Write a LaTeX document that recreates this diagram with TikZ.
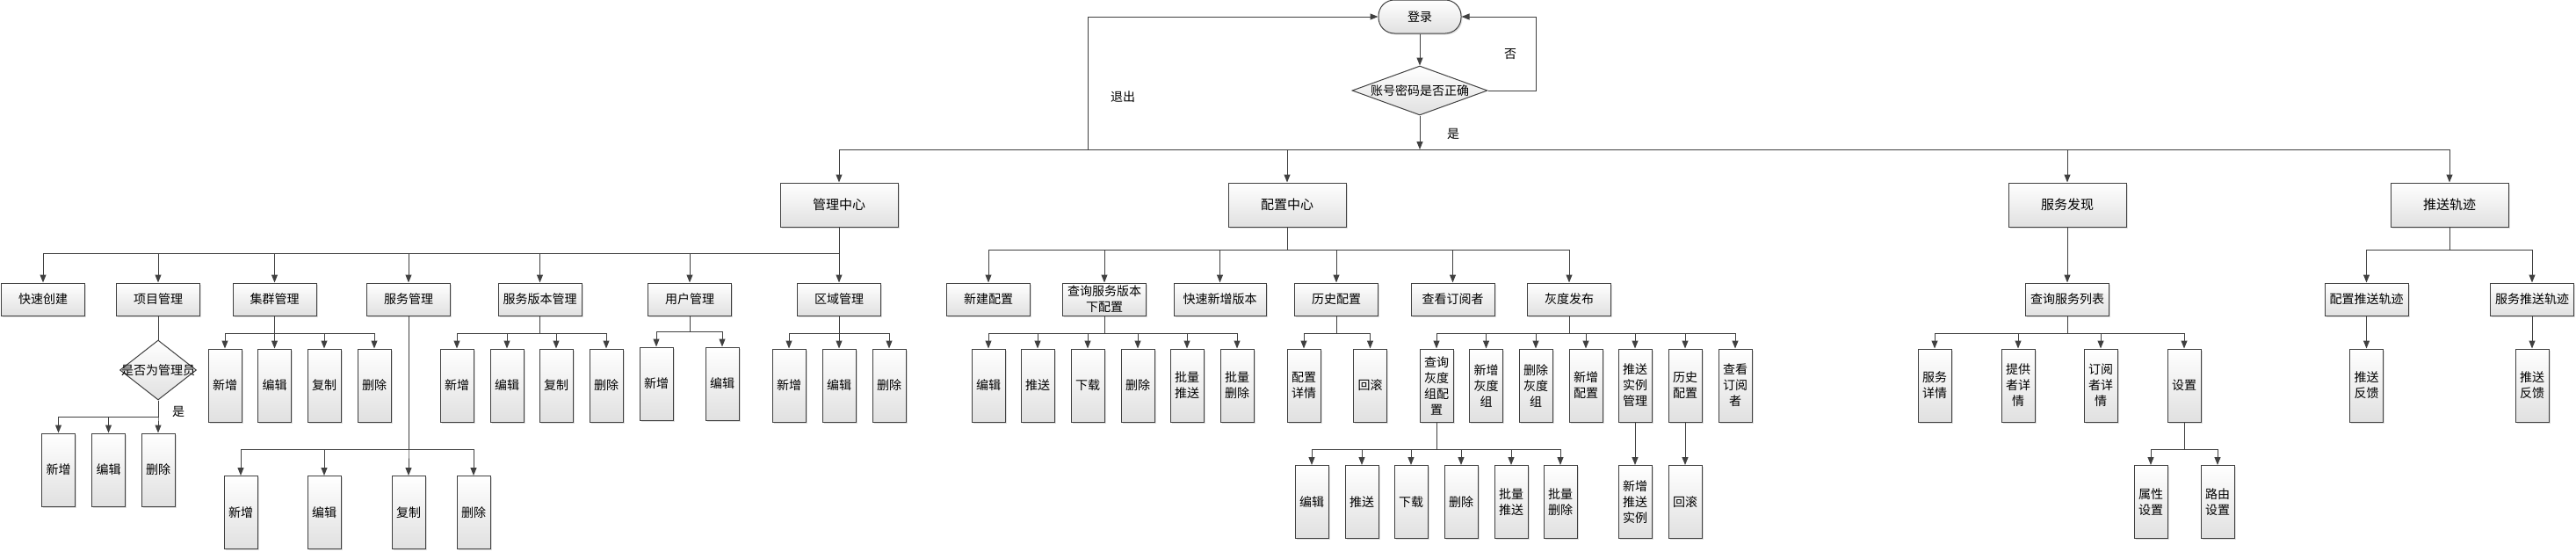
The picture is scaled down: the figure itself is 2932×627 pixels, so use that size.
\documentclass[tikz,border=0pt]{standalone}
\usepackage{fontspec}
\setmainfont{Noto Sans CJK SC}
\usetikzlibrary{positioning,shapes.geometric,arrows.meta,shadows}
\tikzset{box/.style={draw=black!75, line width=1pt, top color=white, bottom color=black!12,
   drop shadow={shadow xshift=1.5pt, shadow yshift=-1.5pt, fill=black!25, opacity=.5},
   font=\fontsize{14}{18}\selectfont, align=center, inner sep=1pt},
 terminal/.style={box, rounded corners=18pt, minimum width=94pt, minimum height=38pt},
 topbox/.style={box, minimum width=134pt, minimum height=50pt, font=\fontsize{15}{18}\selectfont},
 midbox/.style={box, minimum width=95pt, minimum height=37pt},
 leaf/.style={box, minimum width=38pt, minimum height=83pt},
 decide/.style={diamond, draw=black!75, line width=1pt, top color=white, bottom color=black!12, inner sep=0pt},
 tag/.style={font=\fontsize{14}{18}\selectfont},
 link/.style={draw=black!75, line width=1pt},
 arr/.style={link, -{Triangle[length=9pt,width=7pt]}},
 }

\begin{document}
\begin{tikzpicture}[x=1pt,y=-1pt]
        \useasboundingbox (0,0) rectangle (2932,627);

        % login
        \node[terminal] (login) at (1616,19) {登录};
        \node[decide, minimum width=154pt, minimum height=56pt, label={[tag]center:账号密码是否正确}] (check) at (1616,103) {};
        \draw[arr] (login) -- (check);
        \draw[arr] (check.east) -- ++(55,0) |- (login.east);
        \node[tag] (no) at (1719,62) {否};

        \coordinate (busL) at (955,170);
        \coordinate (busR) at (2788,170);
        \coordinate (quit) at (1238,170);
        \draw[link] (busL) -- (busR);
        \draw[arr] (check.south) -- (check.south |- busL);
        \node[tag] (yes) at (1654,152) {是};
        \draw[arr] (quit) |- (login.west);
        \node[tag] (exit) at (1278,110) {退出};

        % top row
        \node[topbox] (mgmt) at (955,233) {管理中心};
        \node[topbox] (conf) at (1465,233) {配置中心};
        \node[topbox] (disc) at (2353,233) {服务发现};
        \node[topbox] (trace) at (2788,233) {推送轨迹};
        \foreach \n in {mgmt,conf,disc,trace} {
            \draw[arr] (\n.north |- busL) -- (\n.north);
        }

        % management
        \foreach \t/\x/\n in {快速创建/49/kscj, 项目管理/180/xmgl, 集群管理/312.5/jqgl, 服务管理/465/fwgl,
                服务版本管理/614.5/bbgl, 用户管理/785/yhgl, 区域管理/955/qygl} {
            \node[midbox] (\n) at (\x,340.5) {\t};
            \draw[arr] (mgmt.south) -- ++(0,30) -| (\n.north);
        }
        \node[decide, minimum width=87pt, minimum height=68pt, label={[tag]center:是否为管理员}] (admin) at (180,421) {};
        \draw[link] (xmgl) -- (admin);
        \node[tag] (yes2) at (203,468) {是};
        \foreach \t/\x [count=\i] in {新增/66.5, 编辑/123.5, 删除/180} {
            \node[leaf] (xm\i) at (\x,534.5) {\t};
            \draw[arr] (admin.south) -- ++(0,19) -| (xm\i.north);
        }
        \foreach \t/\x [count=\i] in {新增/256, 编辑/312.5, 复制/369, 删除/426} {
            \node[leaf] (jq\i) at (\x,438.5) {\t};
            \draw[arr] (jqgl.south) -- ++(0,20) -| (jq\i.north);
        }
        \foreach \t/\x [count=\i] in {新增/274, 编辑/369, 复制/465, 删除/539} {
            \node[leaf] (fw\i) at (\x,583) {\t};
            \draw[arr] (fwgl.south) -- ++(0,152) -| (fw\i.north);
        }
        \foreach \t/\x [count=\i] in {新增/520, 编辑/577, 复制/633, 删除/690} {
            \node[leaf] (bb\i) at (\x,438.5) {\t};
            \draw[arr] (bbgl.south) -- ++(0,20) -| (bb\i.north);
        }
        \foreach \t/\x [count=\i] in {新增/747, 编辑/822} {
            \node[leaf] (yh\i) at (\x,436.5) {\t};
            \draw[arr] (yhgl.south) -- ++(0,18) -| (yh\i.north);
        }
        \foreach \t/\x [count=\i] in {新增/898, 编辑/955, 删除/1012} {
            \node[leaf] (qy\i) at (\x,438.5) {\t};
            \draw[arr] (qygl.south) -- ++(0,20) -| (qy\i.north);
        }

        % configuration
        \foreach \t/\x/\n/\w in {新建配置/1125/xjpz/95, {查询服务版本\\下配置}/1257/cxpz/95, 快速新增版本/1388.5/ksxz/105,
                历史配置/1521/lspz/95, 查看订阅者/1653.5/ckdy/95, 灰度发布/1786/hdfb/95} {
            \node[midbox, minimum width=\w pt] (\n) at (\x,340.5) {\t};
            \draw[arr] (conf.south) -- ++(0,26) -| (\n.north);
        }
        \foreach \t/\x [count=\i] in {编辑/1125, 推送/1181, 下载/1238, 删除/1295, {批量\\推送}/1351, {批量\\删除}/1408} {
            \node[leaf] (cx\i) at (\x,438.5) {\t};
            \draw[arr] (cxpz.south) -- ++(0,20) -| (cx\i.north);
        }
        \foreach \t/\x [count=\i] in {{配置\\详情}/1484, 回滚/1559.5} {
            \node[leaf] (ls\i) at (\x,438.5) {\t};
            \draw[arr] (lspz.south) -- ++(0,20) -| (ls\i.north);
        }
        \foreach \t/\x [count=\i] in {{查询\\灰度\\组配\\置}/1635, {新增\\灰度\\组}/1691.5, {删除\\灰度\\组}/1748, {新增\\配置}/1805,
                {推送\\实例\\管理}/1861, {历史\\配置}/1918, {查看\\订阅\\者}/1975} {
            \node[leaf] (hd\i) at (\x,438.5) {\t};
            \draw[arr] (hdfb.south) -- ++(0,20) -| (hd\i.north);
        }
        \foreach \t/\x [count=\i] in {编辑/1493, 推送/1550, 下载/1606, 删除/1663, {批量\\推送}/1720, {批量\\删除}/1776} {
            \node[leaf] (hz\i) at (\x,571) {\t};
            \draw[arr] (hd1.south) -- ++(0,31) -| (hz\i.north);
        }
        \node[leaf] (tssl) at (1861,571) {新增\\推送\\实例};
        \draw[arr] (hd5) -- (tssl);
        \node[leaf] (hdhg) at (1918,571) {回滚};
        \draw[arr] (hd6) -- (hdhg);

        % discovery
        \node[midbox] (fwlb) at (2353,340.5) {查询服务列表};
        \draw[arr] (disc) -- (fwlb);
        \foreach \t/\x [count=\i] in {{服务\\详情}/2202, {提供\\者详\\情}/2297, {订阅\\者详\\情}/2391, 设置/2486} {
            \node[leaf] (lb\i) at (\x,438.5) {\t};
            \draw[arr] (fwlb.south) -- ++(0,20) -| (lb\i.north);
        }
        \foreach \t/\x [count=\i] in {{属性\\设置}/2448, {路由\\设置}/2524} {
            \node[leaf] (sz\i) at (\x,571) {\t};
            \draw[arr] (lb4.south) -- ++(0,31) -| (sz\i.north);
        }

        % trace
        \foreach \t/\x/\n in {配置推送轨迹/2693.5/pzgj, 服务推送轨迹/2882/fwgj} {
            \node[midbox] (\n) at (\x,340.5) {\t};
            \draw[arr] (trace.south) -- ++(0,26) -| (\n.north);
        }
        \node[leaf] (pzfk) at (2693.5,438.5) {推送\\反馈};
        \draw[arr] (pzgj) -- (pzfk);
        \node[leaf] (fwfk) at (2882,438.5) {推送\\反馈};
        \draw[arr] (fwgj) -- (fwfk);
    \end{tikzpicture}
\end{document}
